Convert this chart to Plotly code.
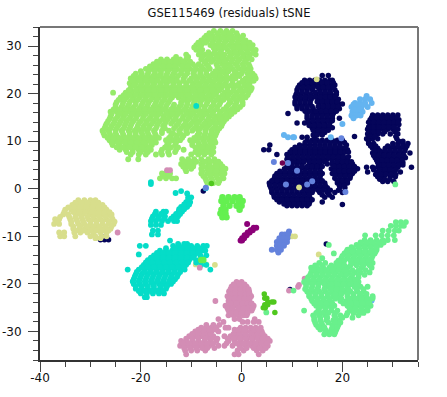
import plotly.graph_objects as go

TITLE = "GSE115469 (residuals) tSNE"
x_ticks = [-40, -20, 0, 20]
x_tick_labels = ["-40", "-20", "0", "20"]
y_ticks = [-30, -20, -10, 0, 10, 20, 30]
y_tick_labels = ["-30", "-20", "-10", "0", "10", "20", "30"]

# Each cluster: rows of (t-SNE 2, [t-SNE 1 values])
lime_rows = [
 (33.2,[-5.5,-4.2,-3,-1.8]),(32.2,[-7,-5.8,-4.5,-3.2,-2,-.8,.3]),(31.2,[-8,-6.8,-5.6,-4.4,-3,-1.8,-.5,.8]),
 (30.2,[-9,-8,-6.2,-5,-3.7,-2.4,-1.2,0,1.2,2.2]),(29.2,[-9,-7.8,-5.2,-4,-2.8,-1.5,-.3,1,2.2,2.8]),
 (28.2,[-11,-8.5,-7.3,-6,-4.6,-3.4,-2,-.8,.5,1.7,2.8]),(27.2,[-16,-14.8,-13.5,-12.2,-11,-8,-6.8,-5.5,-4.2,-3,-1.8,-.4,1,2]),
 (26.2,[-17.5,-16.2,-15,-13.6,-12.4,-11,-9.7,-8.5,-7,-5,-3.8,-2.6,-1.2,.2,1.4]),
 (25.2,[-19,-17.8,-16.5,-15.2,-14,-12.8,-11.4,-10.2,-9,-7.6,-6.3,-4.4,-3,-1.8,-.5,.8,1.8]),
 (24.2,[-21,-19.8,-18.6,-17.2,-16,-14.8,-13.5,-12,-10.8,-9.6,-8.2,-7,-5.7,-4.5,-3.2,-1,0,1.2,2.2]),
 (23.2,[-22,-20.8,-19.5,-18.2,-17,-15.6,-14.4,-13.2,-11.5,-10,-8.8,-7.5,-6.3,-5,-3.8,-2.5,-1.2,.8,2,2.8]),
 (22.2,[-22.2,-21,-19.8,-18.6,-17.3,-16,-14.8,-13.5,-12.3,-11,-9.5,-8.2,-7,-5.7,-4.4,-3.2,-1.8,-.5,.5,1.6]),
 (21.2,[-22,-20.5,-19.2,-18,-16.8,-15.5,-14.2,-12.8,-11.6,-10.4,-9,-7.8,-6.5,-5.3,-4,-2.8,-1.5,-.2,1,2]),
 (20.2,[-25.5,-23,-21.8,-20.6,-19.3,-18,-16.7,-15.4,-14,-12.8,-11.5,-10.2,-8.8,-7.6,-6.2,-5,-3.4,-2.2,-1,.2,1.4]),
 (19.2,[-24,-22.8,-21.5,-20.2,-19,-17.6,-16.4,-15.2,-13.8,-12.5,-11.2,-9.8,-8.6,-7.2,-6,-4.5,-3,-1.6,-.4,.8]),
 (18.2,[-24.8,-23.5,-22.2,-21,-19.6,-18.4,-17,-15.8,-14.5,-12,-10.8,-9.4,-8.2,-6.8,-5.5,-4.2,-2.2,-1,.2]),
 (17.2,[-25,-23.8,-22.6,-21.4,-20,-18.8,-17.5,-16.3,-15,-13.6,-12.4,-11,-9.8,-8.5,-7.3,-6,-4.8,-3,-1.5,-.3]),
 (16.2,[-26,-24.8,-23.5,-22.2,-21,-19.7,-18.5,-17.2,-16,-14.6,-13.4,-12,-10.6,-9.4,-8,-6.8,-5.6,-4.2,-2.8,-1.4]),
 (15.2,[-26,-24.6,-23.4,-22,-20.8,-19.5,-18,-16.8,-15.5,-14.2,-13,-11.6,-10.2,-9,-7.7,-6.4,-5,-3.8,-2.5]),
 (14.2,[-26.5,-25.2,-24,-22.8,-21.5,-20,-18.8,-17.5,-16.2,-15,-13.6,-12.4,-11,-9.6,-8.4,-7,-5.8,-4.5,-3.5]),
 (13.2,[-27,-25.8,-24.5,-23.2,-22,-20.6,-19.4,-18.2,-16.8,-15.6,-13,-11.6,-10.4,-9,-7.8,-6.6,-5.2,-4]),
 (12.2,[-27.6,-26.4,-25,-23.8,-22.4,-21.2,-20,-18.8,-17.4,-15.8,-14.4,-12.4,-11,-9.8,-8.6,-7.2,-6,-4.8]),
 (11.2,[-27.2,-26,-24.8,-23.4,-22.2,-21,-19.6,-18.4,-17,-14,-12.8,-11.5,-8.8,-7.4,-6.2,-5.2]),
 (10.2,[-26.2,-25,-23.8,-22.5,-21.2,-20,-18.6,-17.2,-15,-13.6,-12.2,-10.2,-9,-7.6,-6.4,-5.4]),
 (9.2,[-25.6,-24.2,-22.8,-21.5,-20.2,-19,-17.8,-14.8,-13.2,-9.8,-8.4,-7.2,-6]),
 (8.2,[-24.2,-23,-21.6,-20.4,-19.2,-18,-15.8,-14.5,-13,-11.5,-8.6,-7.2,-6.2]),
 (7.2,[-22,-20.4,-19,-17,-15.8,-14.4,-10,-8.6,-7.4,-6]),
 (6.2,[-22.5,-20.5,-11.8,-10.6,-9.4,-8,-6.6,-5.4]),
 (5.2,[-12,-10.8,-9.5,-8,-6.6,-5.2,-4.2]),
 (4.2,[-11.2,-10,-8,-6.8,-5.5,-4.2,-3.2]),
 (3.2,[-15.8,-15,-14.2,-8,-6.8,-5.6,-4.4,-3.4]),
 (2.2,[-16.2,-15,-13.8,-13,-7.2,-6,-4.8,-3.6]),
 (1.2,[-6.8,-5.6,-4.6]),
 # in-between rows
 (32.7,[-6.4,-4.8,-3.6,-2.4,-1]),(31.7,[-7.4,-6.2,-5,-3.8,-2.4,-1.2,0]),(30.7,[-8.6,-7.2,-5.8,-4.6,-3.4,-2,-.8,.4,1.6]),
 (29.7,[-9.4,-8.2,-5.6,-4.4,-3.2,-1.8,-.6,.6,1.8]),(28.7,[-8.2,-6.6,-5.4,-4.2,-2.4,-1.2,0,1.2,2.4]),
 (27.7,[-13,-10.6,-7.8,-6.4,-5,-3.8,-2.4,-1,.2,1.4]),(26.7,[-16.8,-15.4,-14.2,-13,-11.6,-10.2,-7.4,-6,-4.6,-3.4,-2,-.8,.6]),
 (25.7,[-18.2,-17,-15.6,-14.4,-13.2,-11.8,-10.6,-9.2,-8,-6.6,-4.8,-3.4,-2.2,-.8,.4,1.6]),
 (24.7,[-20,-18.4,-17.2,-16,-14.6,-13.2,-12,-10.8,-9.4,-8.2,-7,-5.2,-3.8,-2.6,-1.4,.2,1.4]),
 (23.7,[-21.4,-20,-18.8,-17.6,-16.4,-15,-13.8,-12.6,-11.2,-9.2,-8,-6.6,-5.4,-4.2,-3,-1.8,-.4,1.6,2.6]),
 (22.7,[-21.6,-20.2,-19,-17.8,-16.6,-15.2,-14,-12.8,-11.6,-10.4,-9,-7.8,-6.6,-5.4,-4.2,-3,-1.8,.2,1.4,2.4]),
 (21.7,[-21.4,-20,-18.8,-17.6,-16.2,-15,-13.6,-12.4,-11,-9.8,-8.6,-7.2,-6,-4.8,-3.6,-2.2,-1,.6,1.4]),
 (20.7,[-22.4,-21,-19.8,-18.6,-17.4,-16,-14.8,-13.4,-12.2,-10.8,-9.6,-8.2,-7,-5.8,-4.4,-2.8,-1.6,-.4,.8,1.8]),
 (19.7,[-23.4,-22.2,-21,-19.8,-18.4,-17.2,-16,-14.6,-13.2,-12,-10.6,-9.2,-8,-6.6,-5.4,-3.8,-2.6,-1.2,0,1.2]),
 (18.7,[-24.4,-23.2,-21.8,-20.6,-19.2,-18,-16.8,-15.4,-14.2,-11.6,-10.4,-9,-7.8,-6.4,-5,-3.6,-2.4,-1.2,0]),
 (17.7,[-25,-23.6,-22.4,-21,-19.8,-18.6,-17.2,-16,-14.8,-13.4,-12,-10.8,-9.6,-8.2,-7,-5.6,-4.4,-2.6,-1.2,.2]),
 (16.7,[-25.4,-24.2,-23,-21.8,-20.4,-19.2,-18,-16.6,-15.4,-14,-12.8,-11.4,-10,-8.8,-7.4,-6.2,-5,-3.6,-2,-.8]),
 (15.7,[-25.8,-24.2,-23,-21.6,-20.4,-19,-17.6,-16.4,-15,-13.8,-12.6,-11,-9.8,-8.4,-7.2,-5.8,-4.4,-3.2,-2]),
 (14.7,[-26.2,-25,-23.6,-22.4,-21,-19.6,-18.4,-17,-15.6,-14.6,-13.2,-11.8,-10.6,-9.2,-8,-6.6,-5.4,-4.2,-3]),
 (13.7,[-26.8,-25.4,-24.2,-23,-21.8,-20.4,-19,-17.8,-16.6,-15.2,-14,-12.6,-11.2,-10,-8.8,-7.4,-6.2,-5,-3.8]),
 (12.7,[-27.2,-26,-24.8,-23.4,-22.2,-20.8,-19.6,-18.4,-17,-15.2,-13.4,-12,-10.8,-9.4,-8.2,-7,-5.6,-4.4]),
 (11.7,[-27.4,-26.2,-25,-23.6,-22.2,-21,-19.8,-18.6,-17.2,-15.8,-13.6,-12.2,-10.8,-8.4,-7.2,-6,-5]),
 (10.7,[-26.6,-25.4,-24.2,-23,-21.8,-20.4,-19.2,-17.8,-16.4,-14.4,-13,-11.8,-9.4,-8.2,-7,-5.8]),
 (9.7,[-25.8,-24.6,-23.2,-22,-20.8,-19.4,-18,-17,-14.4,-13,-9.8,-8.6,-7.4,-6.2,-5.2]),
 (8.7,[-24.8,-23.6,-22.2,-21,-19.8,-18.4,-15.2,-14,-12.6,-9.2,-7.8,-6.6,-5.6]),
 (7.7,[-22.8,-21.6,-20,-18.6,-16,-14.6,-13.2,-9.2,-8,-6.8,-5.6]),
 (5.7,[-11.4,-10.2,-9,-7.4,-6.2,-5,-4.6]),(4.7,[-11.6,-10.4,-9.6,-7.6,-6.2,-5,-3.8]),(3.7,[-11,-7.8,-6.4,-5,-3.8]),
 (2.7,[-15.6,-14.4,-7.6,-6.2,-5,-3.8]),(1.7,[-7,-5.8,-4.4]),
]
ink_rows = [
 (23.8,[16,17.2]),(22.8,[12.5,13.5,14.5,15.5,16.5,17.5,18]),(21.8,[11.5,12.5,13.5,14.5,15.5,16.5,17.5,18.5]),
 (20.8,[11,12,13,14,15.5,16.5,17.5,18.5]),(19.8,[10.8,11.8,12.8,13.8,14.8,15.8,16.8,17.8,18.8]),
 (18.8,[10.8,11.8,12.8,13.8,15.2,16.2,17.2,18.2,19.2]),(17.8,[10.6,11.6,12.6,13.6,15.4,16.4,17.4,18.4,19.4,20]),
 (16.8,[11,12,13,14.2,15.6,16.6,17.6,18.6,19.4]),(15.8,[9.2,13,14.2,15.2,16.2,17.2,18.2]),
 (14.8,[13,14,15,16,17,18,19.4]),(13.8,[11,12.5,13.5,14.5,15.5,16.5,17.5]),(12.8,[14,15,16,17,18]),
 (11.8,[14.5,15.5,16.5]),(10.8,[12,13,14.5]),
 (10.2,[13,14,15,16,17,18,19,20]),(9.2,[5.6,11.5,12.5,13.5,14.5,15.5,16.5,17.5,18.5,19.5,20.8]),
 (8.2,[4.4,5.4,10,11,12,13,14,15,16,17,18,19,20,21]),(7.2,[7,9,10,11,12,13,14,15,16,17,18,19,20]),
 (6.2,[9,10,11,12,13,14,15,16,17,18,19,20,21]),(5.2,[10,11,12,13.5,14.5,15.5,17,18,19,20,21,22]),
 (4.2,[8.5,9.5,10.5,11.5,12.5,13.5,14.5,15.5,17.8,19,20,21,22,23]),(3.2,[7,8,9,10,11,12,13,14,15,16,18,19,20,21,22]),
 (2.2,[6.5,7.5,8.5,9.5,10.5,11.5,12.5,13.5,14.5,15.5,18.5,19.5,20.5,21.5]),
 (1.2,[5.5,6.5,7.5,8.5,9.5,10.5,11.5,12.5,13.5,14.5,15.5,16.5,19,20,21]),
 (.2,[5.8,6.8,7.8,8.8,9.8,10.8,12,13,14,15,16,17,19.5,20.5]),
 (-.8,[6,7,8,9,10,11,12,13,14,15.5,17,18.5,20]),(-1.8,[6.5,7.5,8.5,9.5,10.5,11.5,12.5,13.5,16.5,18]),
 (-2.8,[7.5,8.5,9.5,10.5,11.5,12.5,13.5,16]),(-3.6,[9,10,11,12,13]),(-3.3,[20]),(11,[22.4]),
 (15.5,[26,27,28,29,30,31]),(14.5,[25.5,26.5,27.5,28.5,29.5,30.5,31.2]),(13.5,[25.5,26.5,27.5,28.5,29.5,30.5,31.2]),
 (12.5,[25,26,27,28,29,30,31]),(11.5,[25,26,27,28,29.5,31]),(10.5,[24.8,26,27,30.8]),
 (9.5,[25.2,26.2,30,31,32,33]),(8.5,[26,27,28.5,29.5,30.5,31.5,32.5]),(7.5,[26,27,28,29,30,31,32,33.4]),
 (6.5,[26.5,27.5,28.5,29.5,30.5,31.5,32.5]),(5.5,[27,28,29,30,31,32]),(4.5,[24.8,26,27,28,29,30,31,33.7]),
 (3.5,[25,27,28,29,30,31.5]),(2.5,[27,28,29.5,30.5]),(1.5,[28,29,30.2]),
 (-10.7,[-28,-27.2,-26.4]),(-10.2,[-27.4]),(-11.6,[16.8]),(-21.2,[9.6]),(-14,[-12.8]),(-.5,[-7.6]),
 # in-between rows
 (22.3,[12,13,14,15,16,17,18.2]),(21.3,[11.2,12.2,13.2,14.2,15.2,16.2,17.2,18.2]),(20.3,[11,12,13,14.6,15.6,16.6,17.6,18.8]),
 (19.3,[10.6,11.6,12.6,13.6,14.6,15.6,16.6,17.6,18.6]),(18.3,[10.6,11.6,12.6,13.6,15,16,17,18,19]),
 (17.3,[11,12,13,14,15.2,16.2,17.2,18.2,19.2]),(16.3,[12.6,13.6,14.8,15.8,16.8,17.8,18.8]),(15.3,[13,14,15,16,17,18]),
 (14.3,[13.2,14.2,15.2,16.2,17.2,18]),(13.3,[13.4,14.4,15.4,16.4,17.4]),(12.3,[14.2,15.2,16.2,17.2]),(11.3,[14.2,15,16]),
 (9.7,[12.6,13.6,14.6,15.6,16.6,17.6,18.6,19.6,20.4]),(8.7,[10.6,11.6,12.6,13.6,14.6,15.6,16.6,17.6,18.6,19.6,20.6]),
 (7.7,[9.6,10.6,11.6,12.6,13.6,14.6,15.6,16.6,17.6,18.6,19.6,20.6,21.2]),(6.7,[9.2,10.2,11.2,12.2,13.2,14.2,15.2,16.2,17.2,18.2,19.2,20.2,21.2]),
 (5.7,[9.4,10.4,11.4,12.4,13.4,14.4,15.4,16.4,18,19,20,21,21.8]),(4.7,[9,10,11,12,13,14,15,16,18.4,19.4,20.4,21.4,22.4]),
 (3.7,[7.6,8.6,9.6,10.6,11.6,12.6,13.6,14.6,15.6,18.4,19.4,20.4,21.4,22.4]),(2.7,[6.6,7.6,8.6,9.6,10.6,11.6,12.6,13.6,14.6,15.6,18.6,19.6,20.6,21.6]),
 (1.7,[6,7,8,9,10,11,12,13,14,15,16,19,20,21]),(.7,[5.6,6.6,7.6,8.6,9.6,10.6,11.6,12.6,13.6,14.6,15.6,16.6,19.4,20.4]),
 (-.3,[6,7,8,9,10,11,12.2,13.2,14.2,15.2,16.2,17.6,19.2]),(-1.3,[6.4,7.4,8.4,9.4,10.4,11.4,12.4,13.4,16,17.4]),
 (-2.3,[7,8,9,10,11,12,13,14]),(-3.2,[8.4,9.4,10.4,11.4,12.4,13.4]),
 (15,[25.8,26.8,27.8,28.8,29.8,30.8]),(14,[25.2,26.2,27.2,28.2,29.2,30.2,31]),(13,[25.2,26.2,27.2,28.2,29.2,30.2]),
 (12,[25.2,26.2,27.2,28.4,30.4]),(11,[25.4,26.4,30.6]),(10,[25.2,31.2,32]),(9,[25.6,26.6,29,30,31,32,32.8]),
 (8,[26.4,27.4,28.4,29.4,30.4,31.4,32.4]),(7,[26.2,27.2,28.2,29.2,30.2,31.2,32.2]),(6,[26.8,27.8,28.8,29.8,30.8,31.8]),
 (5,[27.2,28.2,29.2,30.2,31.2,32]),(4,[26.2,27.4,28.4,29.4,30.6]),(3,[26.6,27.6,28.6,29.6,30.6]),(2,[27.4,28.4,29.4]),
]
sky_rows = [
 (19.5,[24.8]),(18.8,[23.5,24.5,25.5]),(18,[22.5,23.5,24.5,25.8]),(17.2,[21.8,22.8,23.8,25]),
 (16.2,[22,23,24]),(15.4,[21.8,22.8,23.6]),(14.8,[22.2]),(13.6,[20]),(11.3,[8.4]),(10.8,[9.2,10.2,10.4,17.7]),(-23.5,[25.8]),
 (17.7,[22.2,23.2,24.2]),(16.7,[22.4,23.4]),
]
sand_rows = [
 (-2.4,[-32.4,-31.2,-30,-29]),(-3.4,[-33.6,-32.4,-31.2,-30,-28.8,-27.6]),(-4.4,[-35,-33.8,-32.6,-31.4,-30.2,-29,-27.8,-26.8]),
 (-5.4,[-35.4,-34.4,-32.8,-31.6,-30.2,-29,-27.8,-26.6,-25.8]),(-6.4,[-37,-36.2,-34,-32.8,-31.6,-30.4,-29.2,-28,-26.8,-25.6]),
 (-7.4,[-37.2,-36.2,-33.8,-32.4,-31.2,-30,-28.8,-27.6,-26.4,-25.4]),(-8.4,[-33.4,-32.2,-31,-29.8,-28.6,-27.2,-26]),
 (-9.2,[-36.2,-35.2,-33.2,-32,-30.6,-29.4,-28,-26.8]),(-10,[-36,-35.2,-33,-30,-29,-27.8,-26.8]),(-10.4,[-29,-28]),
 (-10,[10,10.6]),(-13.8,[15.3]),(23,[14.9]),(.3,[11.4]),(-15.9,[-9.1,-7]),(-16,[-5.3]),
 (-2.9,[-33,-31.8,-30.6,-29.4,-28.4]),(-3.9,[-34.4,-33.2,-32,-30.8,-29.6,-28.4,-27.2]),(-4.9,[-35.2,-33.4,-32.2,-31,-29.6,-28.4,-27.2,-26.2]),
 (-5.9,[-36,-34.2,-33,-31.8,-30.6,-29.4,-28.2,-27,-25.8]),(-6.9,[-36.6,-33.8,-32.6,-31.4,-30,-28.8,-27.6,-26.4,-25.2]),
 (-7.9,[-33.4,-32,-30.6,-29.4,-28.2,-27,-25.8]),(-8.8,[-32.8,-31.4,-30,-28.8,-27.6,-26.4]),
]
teal_rows = [
 (1.4,[-18]),(1,[-18]),(-.9,[-13.1]),(-.5,[-12]),(-1,[-10.8]),(-1.8,[-10.6,-10]),(-2.8,[-11,-10.2]),(-3.8,[-12,-11,-10.8]),
 (-4.8,[-17,-15.5,-15,-12.5,-11.8]),(-5.8,[-17.6,-16.4,-15.2,-13.5,-12.6]),(-6.8,[-18,-17,-15.8,-14.6,-13.4,-12.8]),
 (-7.6,[-18,-17,-16]),(-8.8,[-17.6,-16.6]),(-9.6,[-17.8,-16.6]),(17.4,[-9]),(.1,[-7.1]),
 (-10.9,[-14.2]),(-11.6,[-12.6,-11.4,-10.8]),(-12,[-20.2,-19,-13.6,-12.4,-11.2,-10,-8.8,-7.6,-6.9]),
 (-13,[-16.2,-15,-13.8,-12.6,-11.4,-10.2,-9,-7.8,-7.2,-8.2]),(-13.8,[-20.4]),
 (-14,[-17.4,-16.2,-15,-13.8,-12.6,-11.4,-10.2,-9.4,-8.2,-7]),(-15,[-18.6,-17.4,-16.2,-15,-13.8,-12.6,-11.4,-10.4,-9]),
 (-16,[-19.4,-18.2,-17,-15.8,-14.6,-13.4,-12.2,-11,-8,-7]),(-17,[-22.6,-20.4,-19.2,-18,-16.8,-15.6,-14.4,-13.2,-12,-11.3,-6.2]),
 (-18,[-21,-19.8,-18.6,-17.4,-16.2,-15,-13.8,-12.6]),(-19,[-21.4,-20.2,-19,-17.8,-16.6,-15.4,-14.2,-13.2]),
 (-20,[-21.4,-20.2,-19,-17.6,-16.4,-15.2,-14]),(-21,[-21,-19.8,-18.6,-17.4,-16.2,-15]),(-22,[-20,-18.8,-17.6,-16.4,-15.4]),
 (-22.8,[-19.2,-18.8]),
 (-12.5,[-15,-13.2,-12,-10.8,-9.6,-8.4]),(-13.5,[-16.8,-15.6,-14.4,-13.2,-12,-10.8,-9.6,-8.6]),(-14.5,[-18,-16.8,-15.6,-14.4,-13.2,-12,-10.8,-9.6,-8]),
 (-15.5,[-19,-17.8,-16.6,-15.4,-14.2,-13,-11.8,-10.6,-9]),(-16.5,[-19.8,-18.6,-17.4,-16.2,-15,-13.8,-12.6,-11.4]),
 (-17.5,[-20.8,-19.4,-18.2,-17,-15.8,-14.6,-13.4,-12.2]),(-18.5,[-21.2,-20,-18.8,-17.6,-16.4,-15.2,-14,-12.8]),
 (-19.5,[-21.6,-20.4,-19.2,-18,-16.8,-15.6,-14.4,-13.6]),(-20.5,[-21,-19.8,-18.6,-17.4,-16,-14.8]),(-21.5,[-20.4,-19.2,-18,-16.8,-15.6]),
 (-5.3,[-17.2,-16,-13,-12.2]),(-6.3,[-17.8,-16.6,-15.4,-14,-13]),(-2.3,[-10.6]),(-3.3,[-11.4,-10.4]),(-4.3,[-12.4,-11.4]),
]
pink_rows = [
 (-19.6,[-1,0]),(-20.6,[-2,-1,0,1]),(-21.6,[-2.5,-1.5,-.5,.5,1.5]),(-22.6,[-2.8,-1.8,-.8,.2,1.2,1.9]),
 (-23.6,[-5.2,-2.6,-1.6,-.6,.4,1.4]),(-24.6,[-3.2,-2.4,-1.4,-.4,.6,1.6,2.4]),(-25.6,[-2.6,-1.6,-.6,.4,1.4,2]),
 (-26.6,[-2.6,-1.6,-.6,.4,1]),(-27.4,[-4.6,-1.4,-.4,2.6]),
 (-28,[-3.6,.2,1.2,2.4,3.4]),(-28.6,[-7,-5.6,-4.4]),(-29.2,[-8,-7,-6,-5,-3.2,-2.6,-.2,.8,1.8,2.8,3.8]),
 (-30,[-9.2,-8,-7,-6,-4.6,-1.2,-.2,.8,1.8,2.8,4]),(-31,[-10.4,-9.2,-8,-6.8,-5.6,-3.4,-2.2,-1,.2,1.4,2.6,3.8,4.6]),
 (-32,[-12,-11,-9.8,-8.6,-7.4,-6.2,-5,-2.6,-1.4,-.2,1,2.2,3.4,4.6,5.6]),
 (-33,[-12.2,-11,-9.8,-8.6,-7.6,-6.4,-4.6,-3.4,-1.8,-.4,.8,2,3.2,4.4,5.2]),
 (-34,[-11.2,-10,-8.8,-7.2,-.8,.4,3,4.2]),(-34.8,[-11,-1.4,-.6,3.4]),
 (-9.2,[-24.6]),(-18.9,[12.5]),(-20.2,[11.4]),(-20.6,[11.2]),(-21.4,[9.4]),(3.9,[-14.8,-14.2]),(-16.6,[-8.3]),
 (-30.5,[-9.8,-8.6,-7.4,-6.2,-1.6,-.4,.8,2,3.2,4.2]),(-31.5,[-11,-9.8,-8.6,-7.2,-6,-4.8,-2.8,-1.6,-.4,.8,2,3.2,4.2,5.2]),
 (-32.5,[-11.6,-10.4,-9.2,-8,-6.8,-5.6,-3,-1,.4,1.6,2.8,4,5]),(-33.5,[-11.4,-10.2,-9,-7.8,-6.8,-5.4,-.2,1,2.4,3.6,4.8]),
 (-29.6,[-8.6,-7.4,-6.4,-5.2,-1.4,-.6,.6,2.4,3.4]),(-20.1,[-1.6,-.4,.6]),(-21.1,[-2.2,-1.2,-.2,.8,1.4]),(-22.1,[-2.2,-1.2,-.2,.8,1.6]),
 (-23.1,[-2.4,-1.4,-.4,.6,1.6]),(-24.1,[-2.2,-1,.2,1.2,2]),(-25.1,[-2.8,-1.8,-.6,.4,1.4,2.2]),(-26.1,[-2,-1,0,1.2]),
]
spring_rows = [
 (-7,[30.6,31.6,32.6]),(-7.8,[29.6,30.6,31.6,32.2]),(-8.8,[28,29.2,30.4,31.2]),(-9.8,[26.6,27.8,29,30.2,24.5]),
 (-10.8,[24.4,25.6,26.8,28,29,30.4]),(-11.8,[22.8,24,25.2,26.4,27.6]),(-11.8,[17.3]),(-12.8,[21,22.2,23.4,24.6,25.8,26.8]),
 (-13.6,[18.3,20.4,21.6,22.8,24,25.2,26.4]),(-14.6,[16,19.8,21,22.2,23.4,24.6,25.8]),
 (-15.6,[15.4,16.6,18.8,20,22.4,23.6,24.8,26]),(-16.6,[13.8,15,16.2,17.4,18.6,19.8,21,23.8,25.8]),
 (-17.6,[13.8,15,16.2,17.4,18.6,20,21.2,22.4,23.6,25.4]),(-18.6,[13.2,14.4,15.6,16.8,18,19.2,20.4,21.8,23.2]),
 (-19.6,[12.4,13.6,14.8,16,17.2,18.4,19.6,20.8,22,23.2]),(-20.6,[12.8,14,15.2,17,18.4,19.6,21,22.4,23.6,25]),
 (-21.6,[13,14.2,15.4,16.6,18,19.2,20.4,21.6,23,24.2]),(-22.6,[13.4,14.6,15.8,17,18.2,19.4,21,22.2,23.4,24.6,26]),
 (-23.6,[14,15.2,16.4,17.6,19.6,20.8,22,23.2,24.4,25.4]),(-24.6,[14.8,16,17.2,18.4,21,22.2,23.4,24.6,25.6]),
 (-25.6,[12.4,15.2,16.6,17.8,19,21.8,22.8,24,25]),(-26.6,[14.2,15.4,16.6,18.4,19.6,20.8,23.2]),
 (-27.6,[14.4,15.6,16.8,18.2,19.4]),(-28.6,[14.8,16,18,19.2]),(-29.6,[15.6,16.6,17.8,18.8]),(-30.6,[16.4,17.4,18.4]),
 (-21.4,[10.3]),(-26,[4.9]),(.9,[30.5]),(-23,[26]),
 (-11.3,[23.6,24.8,26,27.2,28.2]),(-12.3,[21.8,23.2,24.4,25.6,26.8]),(-13.2,[20.8,22,23.2,24.4,25.6,26.6]),(-14.1,[20,21.2,22.4,23.6,24.8,26]),
 (-15.1,[19.2,20.4,21.6,22.8,24,25.2]),(-16.1,[14.6,16,17.8,19.2,20.4,21.6,22.8,24.2,25.4]),(-17.1,[14.4,15.6,16.8,18,19.2,20.6,22,23.2,24.6]),
 (-18.1,[13.6,14.8,16,17.2,18.4,19.6,20.8,22,23.2,24.4]),(-19.1,[13,14.2,15.4,16.6,17.8,19,20.2,21.4,22.6]),(-20.1,[12.8,14,15.2,16.4,17.8,19,20.2,21.6,22.8]),
 (-21.1,[12.6,13.8,15,16.4,17.6,18.8,20,21.2,22.8,24.2]),(-22.1,[13.4,14.6,15.8,17.2,18.6,19.8,21,22.2,23.6,24.8]),(-23.1,[13.8,15,16.2,17.4,18.6,19.8,21.4,22.6,23.8,25]),
 (-24.1,[14.4,15.6,16.8,18,20.2,21.6,22.8,24,25.2]),(-25.1,[15.4,16.6,17.8,21.4,22.6,23.8,25]),(-26.1,[14.8,16,17.2,18.6,21,22.2,23.4,24.2]),
 (-27.1,[14.4,15.6,17,18.6,20,22]),(-28.1,[14.6,15.8,17.2,18.6,19.6]),(-29.1,[15.2,16.4,18,19]),(-30.1,[16.6,17.6,18.6]),
]
neon_rows = [
 (-1.8,[-3.8,-2.6,-1.4,-.4]),(-2.6,[-4,-3,-1.8,-.6,.2]),(-3.6,[-3.6,-2.4,-1,0]),(-4.4,[-4,-3.2,-.4]),(-5.2,[-4.2,-3.2]),(-6,[-3.8,-3]),
 (-15,[-8,-7.6]),
]
plum_rows = [
 (-7.4,[1.1]),(-8.2,[2.9,2.4]),(-8.7,[1.8,2.2]),(-9.2,[1.2,1.6]),(-9.8,[.6,1]),(-10.4,[.1,.5]),(-10.9,[-.2,.1]),
]
blue_rows = [
 (-9,[9.4]),(-9.6,[8,8.6,9.2]),(-10.4,[7.5,8.3,9.1]),(-11.2,[7,7.8,8.6,9]),(-12,[7,7.8,8.4]),(-12.8,[6,7,7.8]),(-13.4,[7.3]),
 (10.6,[19.8]),(5.6,[6.4]),(5.4,[9.2]),(-.7,[20.6]),(3.8,[11]),(1.6,[14]),(.9,[8.8,13]),(.2,[-7.1]),
]
moss_rows = [
 (-22.1,[4.5]),(-23,[4.6,5]),(-23.8,[5.2,6,6.4]),(-24.4,[4.6,5.2]),(-25,[4.3,4.7]),(-26,[6.6]),(1.1,[-6]),
]
wine_rows = [(5.4,[8.1])]

clusters = [
 (lime_rows,"#96EB6A",5.8),(ink_rows,"#05055A",5.5),(sky_rows,"#64B4F0",6),(sand_rows,"#D8DE8C",5.8),
 (teal_rows,"#05DCC8",5.8),(pink_rows,"#D38DB5",5.8),(spring_rows,"#69F08C",5.8),(neon_rows,"#64F050",6.5),
 (plum_rows,"#8C0078",6),(blue_rows,"#6482DC",6),(moss_rows,"#50C81E",5.5),(wine_rows,"#6E0050",5.5),
]

fig = go.Figure()
for rows, color, size in clusters:
    xs = [x for y, row in rows for x in row]
    ys = [y for y, row in rows for _ in row]
    fig.add_trace(go.Scatter(x=xs, y=ys, mode="markers", cliponaxis=False,
                             marker=dict(color=color, size=size, line=dict(width=0)), showlegend=False))

tickfont = dict(family="DejaVu Sans", size=12, color="#111111")
fig.update_layout(
    width=447, height=397, autosize=False, paper_bgcolor="white", plot_bgcolor="white",
    margin=dict(l=40, r=28.5, t=27, b=37, pad=0),
    title=dict(text=TITLE, x=229/447, xanchor="center", y=1-13/397, yanchor="middle", automargin=False,
               font=dict(family="DejaVu Sans", size=11.5, color="#111111")),
    xaxis=dict(range=[-40, 35], tickmode="array", tickvals=x_ticks, ticktext=x_tick_labels,
               showgrid=False, zeroline=False, showline=True, automargin=False,
               linecolor="#333333", linewidth=2, ticks="outside", ticklen=10, tickwidth=1, tickcolor="#444444",
               ticklabelstandoff=-4,
               tickfont=tickfont, minor=dict(dtick=5, tick0=0, ticks="outside", ticklen=5, tickcolor="#444444", tickwidth=1)),
    yaxis=dict(range=[-36, 34], tickmode="array", tickvals=y_ticks, ticktext=y_tick_labels,
               showgrid=False, zeroline=False, showline=True, automargin=False,
               linecolor="#333333", linewidth=2, ticks="outside", ticklen=10, tickwidth=1, tickcolor="#444444",
               ticklabelstandoff=4,
               tickfont=tickfont, minor=dict(dtick=2, tick0=0, ticks="outside", ticklen=5, tickcolor="#444444", tickwidth=1)),
    shapes=[
        dict(type="line", xref="paper", yref="paper", x0=0, x1=1, y0=1, y1=1, line=dict(color="#777777", width=2)),
        dict(type="line", xref="paper", yref="paper", x0=1, x1=1, y0=0, y1=1, line=dict(color="#777777", width=2)),
    ],
)
fig.write_html("out.html", config=dict(displayModeBar=False), post_script="document.body.style.margin='0';")
